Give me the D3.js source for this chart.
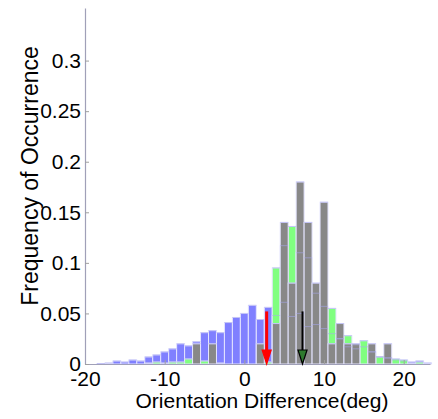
<!DOCTYPE html>
<html>
<head>
<meta charset="utf-8">
<script src="https://cdn.jsdelivr.net/npm/d3@7"></script>
<style>
  html, body { margin: 0; padding: 0; background: #fff; }
  svg text { font-family: "Liberation Sans", Arial, sans-serif; }
</style>
</head>
<body>
<svg id="chart" width="438" height="419"></svg>
<script>
// Bin centres (deg), one bin per degree
const binCenters = [-19,-18,-17,-16,-15,-14,-13,-12,-11,-10,-9,-8,-7,-6,-5,-4,-3,-2,-1,0,1,2,3,4,5,6,7,8,9,10,11,12,13,14,15,16,17,18,19,20,21,22,23];

// Relative frequency per bin for each group
const blueFreq = [0,0.0005,0.001,0.003,0.002,0.004,0.003,0.007,0.009,0.012,0.015,0.020,0.018,0.022,0.031,0.033,0.031,0.041,0.046,0.050,0.058,0.044,0.056,0.048,0.061,0.047,0.050,0.037,0.039,0.035,0.030,0.025,0.017,0.015,0.017,0.012,0.007,0.006,0.004,0.003,0.002,0.003,0.001];
const greenFreq = [0,0,0,0,0,0,0,0.001,0.002,0.001,0.002,0.002,0.005,0,0.003,0,0.001,0,0,0,0,0,0.002,0.095,0.117,0.136,0.110,0.105,0.070,0.057,0.055,0.025,0.028,0.019,0.023,0.012,0.007,0.006,0.005,0.004,0.001,0.002,0];
const grayFreq = [0,0,0,0,0,0,0,0,0,0,0,0,0,0.02,0,0.02,0,0,0,0,0,0.02,0,0.04,0.14,0.08,0.18,0.14,0.08,0.16,0.02,0.04,0.02,0.02,0,0.02,0,0.02,0,0,0,0,0];

// Mean markers: [position (deg), arrow start height]
const redArrow = [2.8, 0.052];
const blackArrow = [7.3, 0.052];

// Axis ticks
const xTicks = [-20, -10, 0, 10, 20];
const yTicks = [0, 0.05, 0.1, 0.15, 0.2, 0.25, 0.3];
const yTickLabels = ["0", "0.05", "0.1", "0.15", "0.2", "0.25", "0.3"];

const svg = d3.select("#chart");
const x = d3.scaleLinear().domain([-20, 23.3]).range([85, 430]);
const y = d3.scaleLinear().domain([0, 0.352]).range([364, 8]);

const series = [
  { values: blueFreq,  fill: "#8080ff" },
  { values: greenFreq, fill: "#80ff80" },
  { values: grayFreq,  fill: "#888888" }
];

const plot = svg.append("g");

// Filled bars, drawn back to front
series.forEach(s => {
  plot.append("g").selectAll("rect")
    .data(binCenters.map((c, i) => ({ c, v: s.values[i] })).filter(d => d.v > 0))
    .join("rect")
      .attr("x", d => x(d.c - 0.5))
      .attr("width", d => x(d.c + 0.5) - x(d.c - 0.5))
      .attr("y", d => y(d.v))
      .attr("height", d => y(0) - y(d.v))
      .attr("fill", s.fill)
      .attr("stroke", "#e4e4ff")
      .attr("stroke-width", 1);
});

// Faint outlines of every bar so that hidden tops remain traceable
series.forEach(s => {
  plot.append("g").selectAll("path")
    .data(binCenters.map((c, i) => ({ c, v: s.values[i] })).filter(d => d.v > 0))
    .join("path")
      .attr("d", d => `M${x(d.c - 0.5)},${y(d.v)}H${x(d.c + 0.5)}`)
      .attr("stroke", "#a8a8ee")
      .attr("stroke-opacity", 0.55)
      .attr("stroke-width", 1)
      .attr("fill", "none");
});

// Axes
const xAxis = d3.axisBottom(x).tickValues(xTicks).tickSizeInner(-4).tickSizeOuter(0).tickPadding(7)
  .tickFormat(d3.format("d"));
const yAxis = d3.axisLeft(y).tickValues(yTicks).tickSizeInner(-4).tickSizeOuter(0).tickPadding(4)
  .tickFormat((d, i) => yTickLabels[i]);

const gx = svg.append("g").attr("transform", `translate(0,${y(0)})`).call(xAxis);
const gy = svg.append("g").attr("transform", `translate(${x(-20)},0)`).call(yAxis);

[gx, gy].forEach(g => {
  g.select(".domain").attr("stroke", "#a0a0b8").attr("stroke-width", 1.2);
  g.selectAll(".tick line").attr("stroke", "#a0a0a0");
  g.selectAll(".tick text").attr("fill", "#000").attr("font-size", 21)
    .style("font-family", "'Liberation Sans', Arial, sans-serif");
});
gx.selectAll(".tick text").text(d => d < 0 ? "-" + Math.abs(d) : d);

// Arrows marking the group means
function arrow(pos, top, color, width, headFill, headStroke) {
  const ax = x(pos), y0 = y(0), yt = y(top), hl = 14, hw = 4.5;
  svg.append("line")
    .attr("x1", ax).attr("x2", ax).attr("y1", yt).attr("y2", y0 - hl + 1)
    .attr("stroke", color).attr("stroke-width", width);
  svg.append("path")
    .attr("d", `M${ax - hw},${y0 - hl}L${ax + hw},${y0 - hl}L${ax},${y0}Z`)
    .attr("fill", headFill).attr("stroke", headStroke).attr("stroke-width", 1.2);
}
arrow(redArrow[0], redArrow[1], "#ff0000", 3, "#ff0000", "#ff0000");
arrow(blackArrow[0], blackArrow[1], "#000000", 2, "#2e7a2e", "#000000");

// Axis titles
svg.append("text")
  .attr("x", 262).attr("y", 408)
  .attr("text-anchor", "middle").attr("font-size", 21)
  .text("Orientation Difference(deg)");

svg.append("text")
  .attr("transform", "translate(38,176) rotate(-90)")
  .attr("text-anchor", "middle").attr("font-size", 23)
  .text("Frequency of Occurrence");
</script>
</body>
</html>
